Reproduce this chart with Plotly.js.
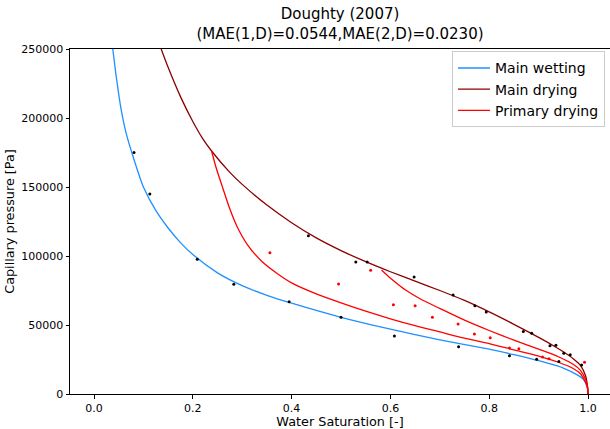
<!DOCTYPE html>
<html>
<head>
<meta charset="utf-8">
<script src="https://cdn.plot.ly/plotly-3.0.1.min.js"></script>
<style>html,body{margin:0;padding:0;background:#fff;}</style>
</head>
<body>
<div id="chart" style="width:610px;height:429px;"></div>
<script>
// Main wetting curve
const wetS = [0.038,0.045,0.055,0.065,0.08,0.1,0.125,0.15,0.175,0.2,0.25,0.3,0.35,0.4,0.5,0.6,0.7,0.8,0.85,0.9,0.95,0.98,0.99,0.995,0.999,1.0];
const wetP = [250000,230000,206000,189000,171000,150000,133000,120300,109700,101000,87800,78500,71500,65800,55600,47000,39300,32500,28500,24100,18800,13500,10800,8000,4000,0];
// Main drying curve
const dryS = [0.136,0.15,0.175,0.2,0.22,0.238,0.275,0.3,0.35,0.4,0.45,0.5,0.55,0.6,0.65,0.7,0.75,0.8,0.85,0.9,0.93,0.95,0.97,0.985,0.995,0.999,1.0];
const dryP = [250000,236700,215500,197500,185100,176100,160600,151900,136900,124100,113100,103900,95900,88600,81800,75000,67800,59500,50500,41000,35000,30600,25600,20600,13200,5500,0];
// Primary drying curves (scanning curves)
const prim1S = [0.238,0.248,0.26,0.275,0.29,0.31,0.34,0.37,0.4,0.45,0.5,0.55,0.6,0.65,0.7,0.75,0.8,0.85,0.9,0.94,0.97,0.985,0.995,0.999,1.0];
const prim1P = [176100,163000,150000,134000,121000,108500,96000,87500,80500,72500,66000,60000,54500,49500,45000,40500,36500,32000,27500,23000,18500,14500,8500,4000,0];
const prim2S = [0.582,0.595,0.61,0.63,0.66,0.7,0.75,0.8,0.85,0.9,0.94,0.97,0.985,0.995,0.999,1.0];
const prim2P = [89850,85500,81000,75500,69000,62000,53500,46000,39000,32500,27000,21500,17000,10500,5000,0];
// Measured data
const obsBlackS = [0.081,0.113,0.209,0.283,0.395,0.434,0.500,0.530,0.553,0.608,0.648,0.727,0.738,0.771,0.794,0.841,0.869,0.886,0.896,0.923,0.935,0.941,0.951,0.964,0.987];
const obsBlackP = [175000,145000,97600,79500,66900,114700,55600,95650,95650,42000,84800,71700,34300,64000,59400,27800,45200,44000,25200,35000,35300,23500,29500,28400,21100];
const obsRedS = [0.356,0.495,0.560,0.606,0.650,0.685,0.737,0.770,0.802,0.841,0.860,0.908,0.921,0.993];
const obsRedP = [102400,79700,89600,64600,63900,55600,50800,43500,40800,33300,32800,26900,25600,23000];

const font = "DejaVu Sans, sans-serif";
const lw = 1.3;
const sm = 0.7;
const traces = [
  {x: wetS, y: wetP, mode: 'lines', name: 'Main wetting', line: {color: '#1e90ff', width: lw, shape: 'spline', smoothing: sm}},
  {x: dryS, y: dryP, mode: 'lines', name: 'Main drying', line: {color: '#8b0000', width: lw, shape: 'spline', smoothing: sm}},
  {x: prim1S, y: prim1P, mode: 'lines', name: 'Primary drying', line: {color: '#ff0000', width: lw, shape: 'spline', smoothing: sm}},
  {x: prim2S, y: prim2P, mode: 'lines', name: 'Primary drying 2', showlegend: false, line: {color: '#ff0000', width: lw, shape: 'spline', smoothing: sm}},
  {x: obsBlackS, y: obsBlackP, mode: 'markers', showlegend: false, marker: {color: '#000000', size: 3}},
  {x: obsRedS, y: obsRedP, mode: 'markers', showlegend: false, marker: {color: '#ff0000', size: 3}}
];
const layout = {
  width: 610, height: 429,
  margin: {l: 70, r: 0, t: 49, b: 35},
  paper_bgcolor: '#fff', plot_bgcolor: '#fff',
  font: {family: font, size: 12, color: '#000'},
  title: {text: 'Doughty (2007)<br>(MAE(1,D)=0.0544,MAE(2,D)=0.0230)', font: {family: font, size: 15, color: '#000'}, x: 0.5, xref: 'paper', xanchor: 'center', y: 1, yref: 'paper', yanchor: 'bottom', pad: {b: 30}},
  showlegend: true,
  legend: {x: 0.9907, xanchor: 'right', y: 0.993, yanchor: 'top', bordercolor: '#cccccc', borderwidth: 1, bgcolor: 'rgba(255,255,255,0.8)', font: {family: font, size: 14}, tracegroupgap: 0, itemwidth: 32},
  xaxis: {
    range: [-0.0486, 1.0445], tickvals: [0,0.2,0.4,0.6,0.8,1.0], ticktext: ['0.0','0.2','0.4','0.6','0.8','1.0'],
    showgrid: false, zeroline: false, showline: true, linecolor: '#000', linewidth: 1, mirror: true,
    ticks: 'outside', ticklen: 3.5, tickcolor: '#000', tickfont: {family: font, size: 11}, automargin: false,
    title: {text: 'Water Saturation [-]', font: {family: font, size: 12.8}, standoff: 3}
  },
  yaxis: {
    range: [0, 250000], tickvals: [0,50000,100000,150000,200000,250000], ticktext: ['0','50000','100000','150000','200000','250000'],
    showgrid: false, zeroline: false, showline: true, linecolor: '#000', linewidth: 1, mirror: false,
    ticks: 'outside', ticklen: 3.5, tickcolor: '#000', tickfont: {family: font, size: 11}, automargin: false,
    title: {text: 'Capillary pressure [Pa]', font: {family: font, size: 12.8}, standoff: 3}
  }
};
Plotly.newPlot('chart', traces, layout, {displayModeBar: false, staticPlot: true});
</script>
</body>
</html>
